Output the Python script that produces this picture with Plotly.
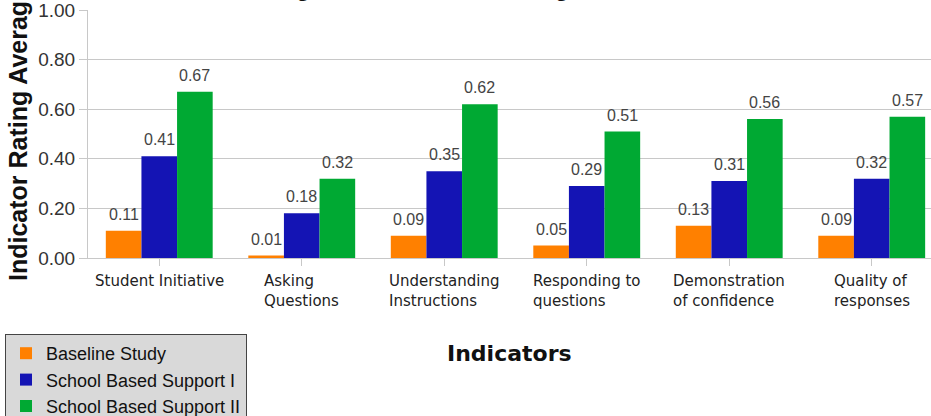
import plotly.graph_objects as go

CATEGORIES = [
    "Student Initiative",
    "Asking<br>Questions",
    "Understanding<br>Instructions",
    "Responding to<br>questions",
    "Demonstration<br>of confidence",
    "Quality of<br>responses",
]
SERIES = ["Baseline Study", "School Based Support I", "School Based Support II"]
BASELINE = [0.11, 0.01, 0.09, 0.05, 0.13, 0.09]
SUPPORT_1 = [0.41, 0.18, 0.35, 0.29, 0.31, 0.32]
SUPPORT_2 = [0.67, 0.32, 0.62, 0.51, 0.56, 0.57]
Y_TICKS = [0.0, 0.2, 0.4, 0.6, 0.8, 1.0]

COLORS = ["#ff8000", "#1414b4", "#00a933"]
TEXT = "#333333"
GRID = "#c8c8c8"

W, H = 931, 416
ML, MT, MB = 88, 10, 158
X_RANGE = [-0.5, 5.416]
BARGAP = 0.25

plot_w = W - ML
plot_h = H - MT - MB
cat_px = plot_w / (X_RANGE[1] - X_RANGE[0])
bar_px = cat_px * (1 - BARGAP) / len(SERIES)

fig = go.Figure()
all_vals = [BASELINE, SUPPORT_1, SUPPORT_2]
for k, (name, vals, col) in enumerate(zip(SERIES, all_vals, COLORS)):
    fig.add_trace(
        go.Bar(
            name=name,
            x=list(range(len(CATEGORIES))),
            y=vals,
            marker=dict(color=col, line=dict(width=0)),
        )
    )
    # value labels a little above each bar
    for i, v in enumerate(vals):
        fig.add_annotation(
            x=i, y=v, xref="x", yref="y", yanchor="bottom",
            xshift=(k - 1) * bar_px, yshift=6,
            text=f"{v:.2f}", showarrow=False,
            font=dict(family="Liberation Sans", size=16, color="#444444"),
        )

# category labels, left-aligned lines in a centred block
for i, lab in enumerate(CATEGORIES):
    fig.add_annotation(
        x=i, xref="x", y=0, yref="paper", yanchor="top", yshift=-12,
        text=lab, showarrow=False, align="left",
        font=dict(family="DejaVu Sans", size=15, color="#222222"),
    )

fig.add_annotation(
    x=0.5, xref="paper", y=-0.387, yref="paper", yanchor="middle",
    text="<b>Indicators</b>", showarrow=False,
    font=dict(family="DejaVu Sans", size=22, color="#111111"),
)
fig.add_annotation(
    x=0.447, xref="paper", y=1, yref="paper", yanchor="bottom", yshift=7,
    text="<b>Changes in Student Learning Behaviour</b>", showarrow=False,
    font=dict(family="Liberation Sans", size=24, color="#111111"),
)
fig.add_annotation(
    x=-0.083, xref="paper", y=0.5, yref="paper", xanchor="center", yanchor="middle",
    textangle=-90,
    text="<b>Indicator Rating Average</b>", showarrow=False,
    font=dict(family="Liberation Sans", size=25, color="#111111"),
)

fig.update_layout(
    width=W,
    height=H,
    margin=dict(l=ML, r=0, t=MT, b=MB, autoexpand=False),
    paper_bgcolor="white",
    plot_bgcolor="white",
    barmode="group",
    bargap=BARGAP,
    bargroupgap=0,
    showlegend=True,
    legend=dict(
        x=(5 - ML) / plot_w, xanchor="left",
        y=-76 / plot_h, yanchor="top",
        bgcolor="#d9d9d9", bordercolor="#444444", borderwidth=1,
        font=dict(family="Liberation Sans", size=18, color="#111111"),
        tracegroupgap=0,
    ),
    font=dict(family="Liberation Sans", color=TEXT),
)
fig.update_xaxes(
    range=X_RANGE,
    showticklabels=False,
    tickson="boundaries",
    tickmode="array",
    tickvals=list(range(len(CATEGORIES))),
    ticks="outside",
    ticklen=7,
    tickcolor=GRID,
    showgrid=False,
    showline=True,
    linecolor=GRID,
    zeroline=False,
    automargin=False,
)
fig.update_yaxes(
    range=[0, 1.0],
    tickvals=Y_TICKS,
    tickformat=".2f",
    ticks="outside",
    ticklen=8,
    tickcolor=GRID,
    tickfont=dict(family="Liberation Sans", size=19, color=TEXT),
    ticklabeloverflow="allow",
    showgrid=True,
    gridcolor=GRID,
    showline=True,
    linecolor=GRID,
    zeroline=False,
    automargin=False,
)

# drop the default page margin so the figure fills the window exactly
fig.write_html(
    "out.html",
    config={"displayModeBar": False},
    post_script="document.body.style.margin = '0';",
)
